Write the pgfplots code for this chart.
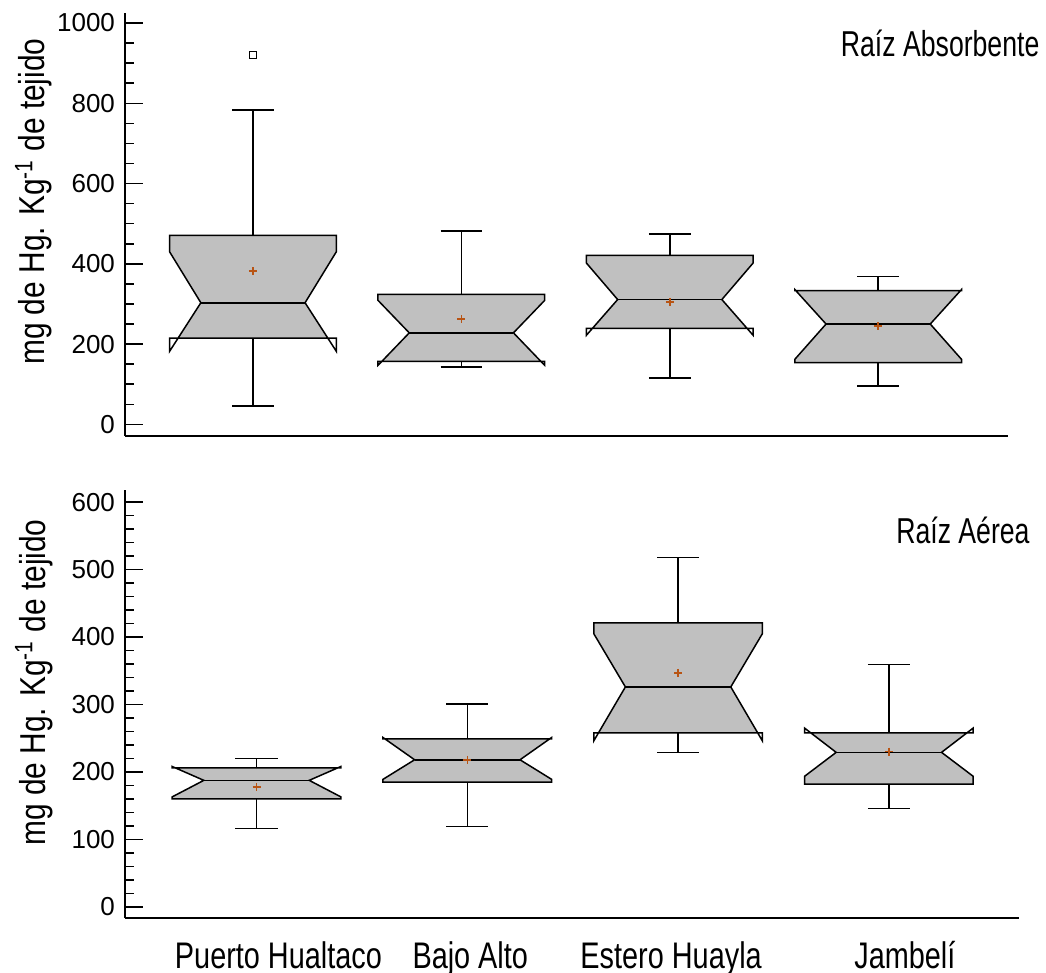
\documentclass[border=0pt]{standalone}
\usepackage{fontspec}
\setmainfont{Liberation Sans}
\newfontfamily\narrowfont[FakeStretch=0.78]{Liberation Sans}
\newfontfamily\annfont[FakeStretch=0.74]{Liberation Sans}
\newfontfamily\labfont[FakeStretch=0.83]{Liberation Sans}
\usepackage{pgfplots}
\pgfplotsset{compat=1.18}
\definecolor{boxgray}{RGB}{192,192,192}
\definecolor{meancol}{RGB}{184,84,20}

\def\BW{0.40}\def\NW{0.25}\def\CW{0.10}
\pgfplotsset{
  boxline/.style={black, line width=0.75pt, mark=none, forget plot, line join=miter},
  meanmark/.style={only marks, mark=+, mark size=2pt, color=meancol, mark options={line width=0.8pt}, forget plot},
  myax/.style={scale only axis, axis lines*=left, clip mode=individual,
    axis line style={line width=0.75pt}, tick align=inside,
    major tick length=9pt, minor tick length=4.5pt,
    every tick/.style={black, line width=0.75pt},
    xtick style={draw=none},
    tick label style={font=\fontsize{13}{15}\selectfont},
    yticklabel style={xshift=-1.5pt},
    /pgf/number format/assume math mode=true,
    /pgf/number format/1000 sep={},
    ylabel={mg de Hg. Kg\textsuperscript{-1} de tejido},
    ylabel style={font=\labfont\fontsize{18}{20}\selectfont, anchor=base},
  }
}
% #1 x, #2 lower whisker, #3 Q1, #4 lower notch, #5 median, #6 upper notch, #7 Q3, #8 upper whisker, #9 mean
\newcommand\notchbox[9]{%
 \pgfmathsetmacro\nbL{#1-\BW}%
 \pgfmathsetmacro\nbR{#1+\BW}%
 \pgfmathsetmacro\nbl{#1-\NW}%
 \pgfmathsetmacro\nbr{#1+\NW}%
 \pgfmathsetmacro\nbcl{#1-\CW}%
 \pgfmathsetmacro\nbcr{#1+\CW}%
 \pgfmathsetmacro\nbhu{min(#6,#7)}%
 \pgfmathsetmacro\nbxu{\NW+(\BW-\NW)*(\nbhu-#5)/(#6-#5)}%
 \pgfmathsetmacro\nbhl{max(#4,#3)}%
 \pgfmathsetmacro\nbxl{\NW+(\BW-\NW)*(#5-\nbhl)/(#5-#4)}%
 \pgfmathsetmacro\nbuL{#1-\nbxu}\pgfmathsetmacro\nbuR{#1+\nbxu}%
 \pgfmathsetmacro\nblL{#1-\nbxl}\pgfmathsetmacro\nblR{#1+\nbxl}%
 \edef\nbtmp{%
  \noexpand\addplot[fill=boxgray,draw=none,forget plot] coordinates {(\nbuL,#7) (\nbuR,#7) (\nbuR,\nbhu) (\nbr,#5) (\nblR,\nbhl) (\nblR,#3) (\nblL,#3) (\nblL,\nbhl) (\nbl,#5) (\nbuL,\nbhu) (\nbuL,#7)};%
  \noexpand\addplot[boxline] coordinates {(\nbL,#7) (\nbR,#7) (\nbR,#6) (\nbr,#5) (\nbR,#4) (\nbR,#3) (\nbL,#3) (\nbL,#4) (\nbl,#5) (\nbL,#6) (\nbL,#7) (\nbR,#7)};%
  \noexpand\addplot[boxline] coordinates {(\nbl,#5) (\nbr,#5)};%
  \noexpand\addplot[boxline] coordinates {(#1,#7) (#1,#8)};%
  \noexpand\addplot[boxline] coordinates {(\nbcl,#8) (\nbcr,#8)};%
  \noexpand\addplot[boxline] coordinates {(#1,#3) (#1,#2)};%
  \noexpand\addplot[boxline] coordinates {(\nbcl,#2) (\nbcr,#2)};%
  \noexpand\addplot[meanmark] coordinates {(#1,#9)};%
 }\nbtmp}

\begin{document}
\begin{tikzpicture}
\path[use as bounding box] (0pt,0pt) rectangle (523pt,-486.5pt);
% ---------- top panel: Raiz Absorbente ----------
\begin{axis}[myax, at={(62.5pt,-218pt)}, anchor=south west,
  width=441.5pt, height=211.5pt,
  xmin=-0.614, xmax=3.623, ymin=-29, ymax=1025,
  xtick=\empty, ytick={0,200,400,600,800,1000}, minor y tick num=3,
  ylabel style={at={(axis description cs:-0.0906,0.554)}},
]
\notchbox{0}{46}{215}{182}{303}{430}{471}{783}{382}
\notchbox{1}{143}{157}{147}{228}{309}{324}{482}{262}
\notchbox{2}{115}{239}{222}{311}{402}{421}{474}{305}
\notchbox{3}{95}{154}{162}{250}{336}{333}{369}{245}
\addplot[only marks, mark=square, mark size=1.75pt, black, mark options={line width=0.5pt}] coordinates {(0,921)};
\node[anchor=base east, inner sep=0pt, font=\annfont\fontsize{18}{20}\selectfont] at (axis description cs:1.036,0.898) {Raíz Absorbente};
\end{axis}
% ---------- bottom panel: Raiz Aerea ----------
\begin{axis}[myax, at={(62.5pt,-459pt)}, anchor=south west,
  width=446.85pt, height=214pt,
  xmin=-0.624, xmax=3.616, ymin=-16.6, ymax=618,
  xtick={0.104,1.014,1.967,3.076},
  xticklabels={Puerto Hualtaco, Bajo Alto, Estero Huayla, Jambelí},
  xticklabel style={font=\narrowfont\fontsize{18.5}{20}\selectfont, anchor=base, yshift=-25pt},
  ytick={0,100,200,300,400,500,600}, minor y tick num=4,
  ylabel style={at={(axis description cs:-0.0895,0.55)}},
]
\notchbox{0}{116}{160}{163}{187.5}{208}{206}{220}{178}
\notchbox{1}{119}{185}{189}{218}{251}{249}{301}{218}
\notchbox{2}{229}{258}{246}{326}{405}{421}{518}{347}
\notchbox{3}{146}{182}{193.5}{229}{265}{258}{359}{230}
\node[anchor=base east, inner sep=0pt, font=\annfont\fontsize{18}{20}\selectfont] at (axis description cs:1.0126,0.875) {Raíz Aérea};
\end{axis}
\end{tikzpicture}
\end{document}
